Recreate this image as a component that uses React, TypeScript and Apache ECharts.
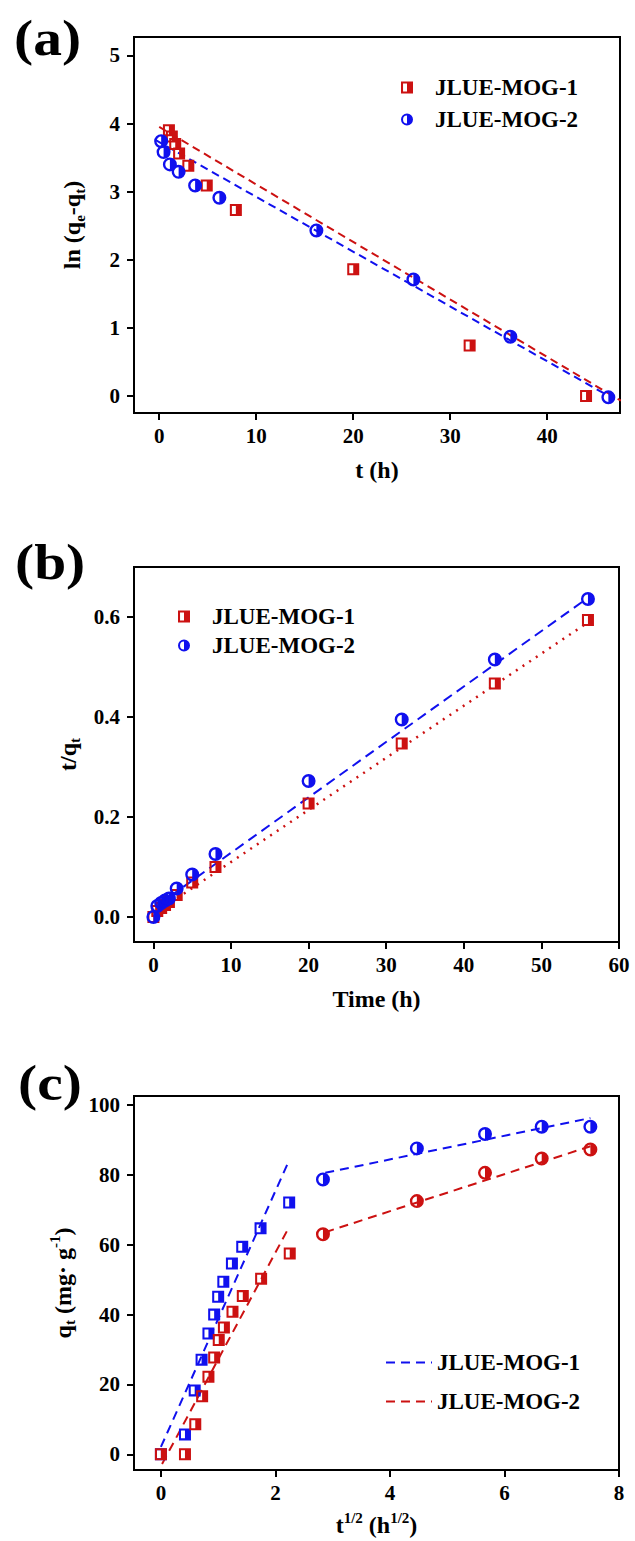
import React, { useEffect, useRef } from "react";
import * as echarts from "echarts";

const FONT = "Liberation Serif";
const RED = "#cc1111";
const BLUE = "#1010ee";

// ---------- Panel (a): ln(qe-qt) vs t ----------
const aRedT = [1.0, 1.3, 1.65, 2.05, 3.0, 4.9, 7.9, 20.0, 32.0, 44.0];
const aRedLn = [3.9, 3.81, 3.7, 3.56, 3.38, 3.09, 2.73, 1.86, 0.74, 0.0];
const aBlueT = [0.2, 0.45, 1.1, 2.0, 3.7, 6.2, 16.2, 26.2, 36.2, 46.3];
const aBlueLn = [3.74, 3.58, 3.4, 3.29, 3.09, 2.91, 2.43, 1.71, 0.87, -0.02];
const aRedFitT = [0, 47.6];
const aRedFitLn = [3.95, -0.07];
const aBlueFitT = [-0.4, 46.2];
const aBlueFitLn = [3.76, 0.01];
const aXTicks = [0, 10, 20, 30, 40];
const aYTicks = [0, 1, 2, 3, 4, 5];

// ---------- Panel (b): t/qt vs Time ----------
const bTime = [0, 0.5, 1, 1.5, 2, 3, 5, 8, 20, 32, 44, 56];
const bRed = [0, 0.012, 0.018, 0.024, 0.03, 0.044, 0.069, 0.1, 0.227, 0.347, 0.467, 0.594];
const bBlue = [0, 0.022, 0.028, 0.033, 0.037, 0.057, 0.085, 0.126, 0.272, 0.395, 0.515, 0.636];
const bRedFitT = [0.5, 55.5];
const bRedFitY = [0.011, 0.584];
const bBlueFitT = [0.5, 55.6];
const bBlueFitY = [0.023, 0.634];
const bXTicks = [0, 10, 20, 30, 40, 50, 60];
const bYTicks = [0, 0.2, 0.4, 0.6];

// ---------- Panel (c): qt vs t^1/2 ----------
const cBlueSqX = [0, 0.42, 0.59, 0.71, 0.83, 0.93, 1.0, 1.09, 1.24, 1.42, 1.74, 2.24];
const cBlueSqY = [0, 5.7, 18.3, 27.1, 34.6, 40.0, 45.1, 49.4, 54.6, 59.4, 64.7, 72.1];
const cRedSqX = [0, 0.42, 0.6, 0.72, 0.83, 0.93, 1.01, 1.1, 1.25, 1.43, 1.75, 2.25];
const cRedSqY = [0, 0, 8.6, 16.6, 22.2, 27.7, 32.7, 36.3, 40.8, 45.3, 50.3, 57.5];
const cCircX = [2.83, 4.47, 5.66, 6.65, 7.5];
const cBlueCircY = [78.7, 87.6, 91.7, 93.8, 93.8];
const cRedCircY = [63.0, 72.5, 80.6, 84.7, 87.3];
const cBlueFit1X = [0, 2.24];
const cBlueFit1Y = [2.1, 84.2];
const cRedFit1X = [0.02, 2.21];
const cRedFit1Y = [-2.8, 64.2];
const cBlueFit2X = [2.87, 7.5];
const cBlueFit2Y = [80.6, 96.3];
const cRedFit2X = [2.87, 7.5];
const cRedFit2Y = [63.6, 88.2];
const cXTicks = [0, 2, 4, 6, 8];
const cYTicks = [0, 20, 40, 60, 80, 100];

const LABELS: Record<string, string> = {
  a1: "JLUE-MOG-1",
  a2: "JLUE-MOG-2",
  b1: "JLUE-MOG-1",
  b2: "JLUE-MOG-2",
  c1: "JLUE-MOG-1",
  c2: "JLUE-MOG-2",
};

const SQ = "path://M0,0L10,0L10,10L0,10ZM1.7,1.7L1.7,8.3L5,8.3L5,1.7Z";
const CI = "path://M5,0A5,5,0,1,1,5,10A5,5,0,1,1,5,0ZM5,1.7A3.3,3.3,0,0,0,5,8.3Z";

const zip = (xs: number[], ys: number[]) => xs.map((x, i) => [x, ys[i]]);

const rich = {
  n: { fontSize: 24, fontWeight: "bold", fontFamily: FONT, color: "#000", lineHeight: 30, verticalAlign: "middle" },
  sub: { fontSize: 15, fontWeight: "bold", fontFamily: FONT, color: "#000", lineHeight: 16, verticalAlign: "bottom" },
  sup: { fontSize: 15, fontWeight: "bold", fontFamily: FONT, color: "#000", lineHeight: 16, verticalAlign: "top" },
};

const labelStyle = { fontSize: 21, fontWeight: "bold", fontFamily: FONT, color: "#000" };

function xAxis(gi: number, min: number, max: number, ticks: number[], name: string, gap: number, fmt?: (v: number) => string) {
  return {
    type: "value",
    gridIndex: gi,
    min,
    max,
    name,
    nameLocation: "middle",
    nameGap: gap,
    nameTextStyle: { rich },
    axisLine: { show: true, onZero: false, lineStyle: { color: "#000", width: 2 } },
    axisTick: { show: true, length: 7, customValues: ticks, lineStyle: { color: "#000", width: 2 } },
    axisLabel: { ...labelStyle, margin: 12, customValues: ticks, formatter: fmt || ((v: number) => String(v)) },
    splitLine: { show: false },
  };
}

function yAxis(gi: number, min: number, max: number, ticks: number[], name: string, gap: number, fmt?: (v: number) => string) {
  return {
    type: "value",
    gridIndex: gi,
    min,
    max,
    name,
    nameLocation: "middle",
    nameGap: gap,
    nameTextStyle: { rich },
    axisLine: { show: true, onZero: false, lineStyle: { color: "#000", width: 2 } },
    axisTick: { show: true, length: 7, customValues: ticks, lineStyle: { color: "#000", width: 2 } },
    axisLabel: { ...labelStyle, margin: 14, customValues: ticks, formatter: fmt || ((v: number) => String(v)) },
    splitLine: { show: false },
  };
}

function fit(name: string, ai: number, xs: number[], ys: number[], color: string, type: any, width = 2) {
  return {
    type: "line",
    name,
    xAxisIndex: ai,
    yAxisIndex: ai,
    data: zip(xs, ys),
    symbol: "none",
    showSymbol: false,
    lineStyle: { color, width, type },
    itemStyle: { color },
    z: 2,
    silent: true,
  };
}

function pts(name: string, ai: number, xs: number[], ys: number[], color: string, symbol: string, size: number) {
  return {
    type: "scatter",
    name,
    xAxisIndex: ai,
    yAxisIndex: ai,
    data: zip(xs, ys),
    symbol,
    symbolSize: size,
    symbolKeepAspect: true,
    itemStyle: { color, borderWidth: 0, opacity: 1 },
    z: 3,
    silent: true,
  };
}

const legendText = { fontFamily: FONT, fontWeight: "bold", fontSize: 23, color: "#000", padding: [0, 0, 0, 17] };

export default function App() {
  const ref = useRef<HTMLDivElement>(null);
  useEffect(() => {
    document.body.style.margin = "0";
    if (!ref.current) return;
    const chart = echarts.init(ref.current, null, { renderer: "svg" });
    const gridBase = { show: true, borderColor: "#000", borderWidth: 2, backgroundColor: "transparent", outerBoundsMode: "none" };
    chart.setOption({
      animation: false,
      backgroundColor: "#fff",
      textStyle: { fontFamily: FONT },
      grid: [
        { ...gridBase, left: 134, top: 37, width: 486, height: 376 },
        { ...gridBase, left: 134, top: 567, width: 485, height: 375 },
        { ...gridBase, left: 134, top: 1096, width: 485, height: 374 },
      ],
      xAxis: [
        xAxis(0, -2.6, 47.5, aXTicks, "{n|t (h)}", 42),
        xAxis(1, -2.5, 60, bXTicks, "{n|Time (h)}", 42),
        xAxis(2, -0.47, 8, cXTicks, "{n|t}{sup|1/2}{n| (h}{sup|1/2}{n|)}", 40),
      ],
      yAxis: [
        yAxis(0, -0.25, 5.27, aYTicks, "{n|ln (q}{sub|e}{n|-q}{sub|t}{n|)}", 47),
        yAxis(1, -0.05, 0.7, bYTicks, "{n|t/q}{sub|t}", 50, (v: number) => v.toFixed(1)),
        yAxis(2, -4.5, 102.6, cYTicks, "{n|q}{sub|t}{n| (mg· g}{sup|-1}{n|)}", 50),
      ],
      legend: [
        {
          orient: "vertical", left: 401, top: 76, padding: 0, itemWidth: 12, itemHeight: 12, itemGap: 9,
          selectedMode: false, data: ["a1", "a2"], formatter: (n: string) => LABELS[n], textStyle: legendText,
        },
        {
          orient: "vertical", left: 178, top: 605, padding: 0, itemWidth: 12, itemHeight: 12, itemGap: 6,
          selectedMode: false, data: ["b1", "b2"], formatter: (n: string) => LABELS[n], textStyle: legendText,
        },
        {
          orient: "vertical", left: 385, top: 1351, padding: 0, itemWidth: 46, itemHeight: 14, itemGap: 16,
          selectedMode: false, data: ["c1", "c2"], formatter: (n: string) => LABELS[n],
          itemStyle: { opacity: 0 },
          textStyle: { ...legendText, padding: [0, 0, 0, 0] },
        },
      ],
      graphic: [
        { type: "text", x: 14, y: 38, scaleX: 1.15, style: { text: "(a)", fontFamily: FONT, fontWeight: "bold", fontSize: 50, fill: "#000", verticalAlign: "middle" } },
        { type: "text", x: 15, y: 562, scaleX: 1.15, style: { text: "(b)", fontFamily: FONT, fontWeight: "bold", fontSize: 50, fill: "#000", verticalAlign: "middle" } },
        { type: "text", x: 18, y: 1083, scaleX: 1.15, style: { text: "(c)", fontFamily: FONT, fontWeight: "bold", fontSize: 50, fill: "#000", verticalAlign: "middle" } },
      ],
      series: [
        fit("a-fit-red", 0, aRedFitT, aRedFitLn, RED, [8, 5]),
        fit("a-fit-blue", 0, aBlueFitT, aBlueFitLn, BLUE, [8, 5]),
        pts("a1", 0, aRedT, aRedLn, RED, SQ, 12),
        pts("a2", 0, aBlueT, aBlueLn, BLUE, CI, 14),

        fit("b-fit-red", 1, bRedFitT, bRedFitY, RED, [2, 6], 2.5),
        fit("b-fit-blue", 1, bBlueFitT, bBlueFitY, BLUE, [10, 6]),
        pts("b1", 1, bTime, bRed, RED, SQ, 12),
        pts("b2", 1, bTime, bBlue, BLUE, CI, 14),

        fit("c1", 2, cBlueFit1X, cBlueFit1Y, BLUE, [9, 6]),
        fit("c1", 2, cBlueFit2X, cBlueFit2Y, BLUE, [9, 6]),
        fit("c2", 2, cRedFit1X, cRedFit1Y, RED, [9, 6]),
        fit("c2", 2, cRedFit2X, cRedFit2Y, RED, [9, 6]),
        pts("c-blue-sq", 2, cBlueSqX, cBlueSqY, BLUE, SQ, 12),
        pts("c-red-sq", 2, cRedSqX, cRedSqY, RED, SQ, 12),
        pts("c-blue-ci", 2, cCircX, cBlueCircY, BLUE, CI, 14),
        pts("c-red-ci", 2, cCircX, cRedCircY, RED, CI, 14),
      ],
    });
    return () => chart.dispose();
  }, []);
  return <div ref={ref} style={{ width: 635, height: 1541 }} />;
}
